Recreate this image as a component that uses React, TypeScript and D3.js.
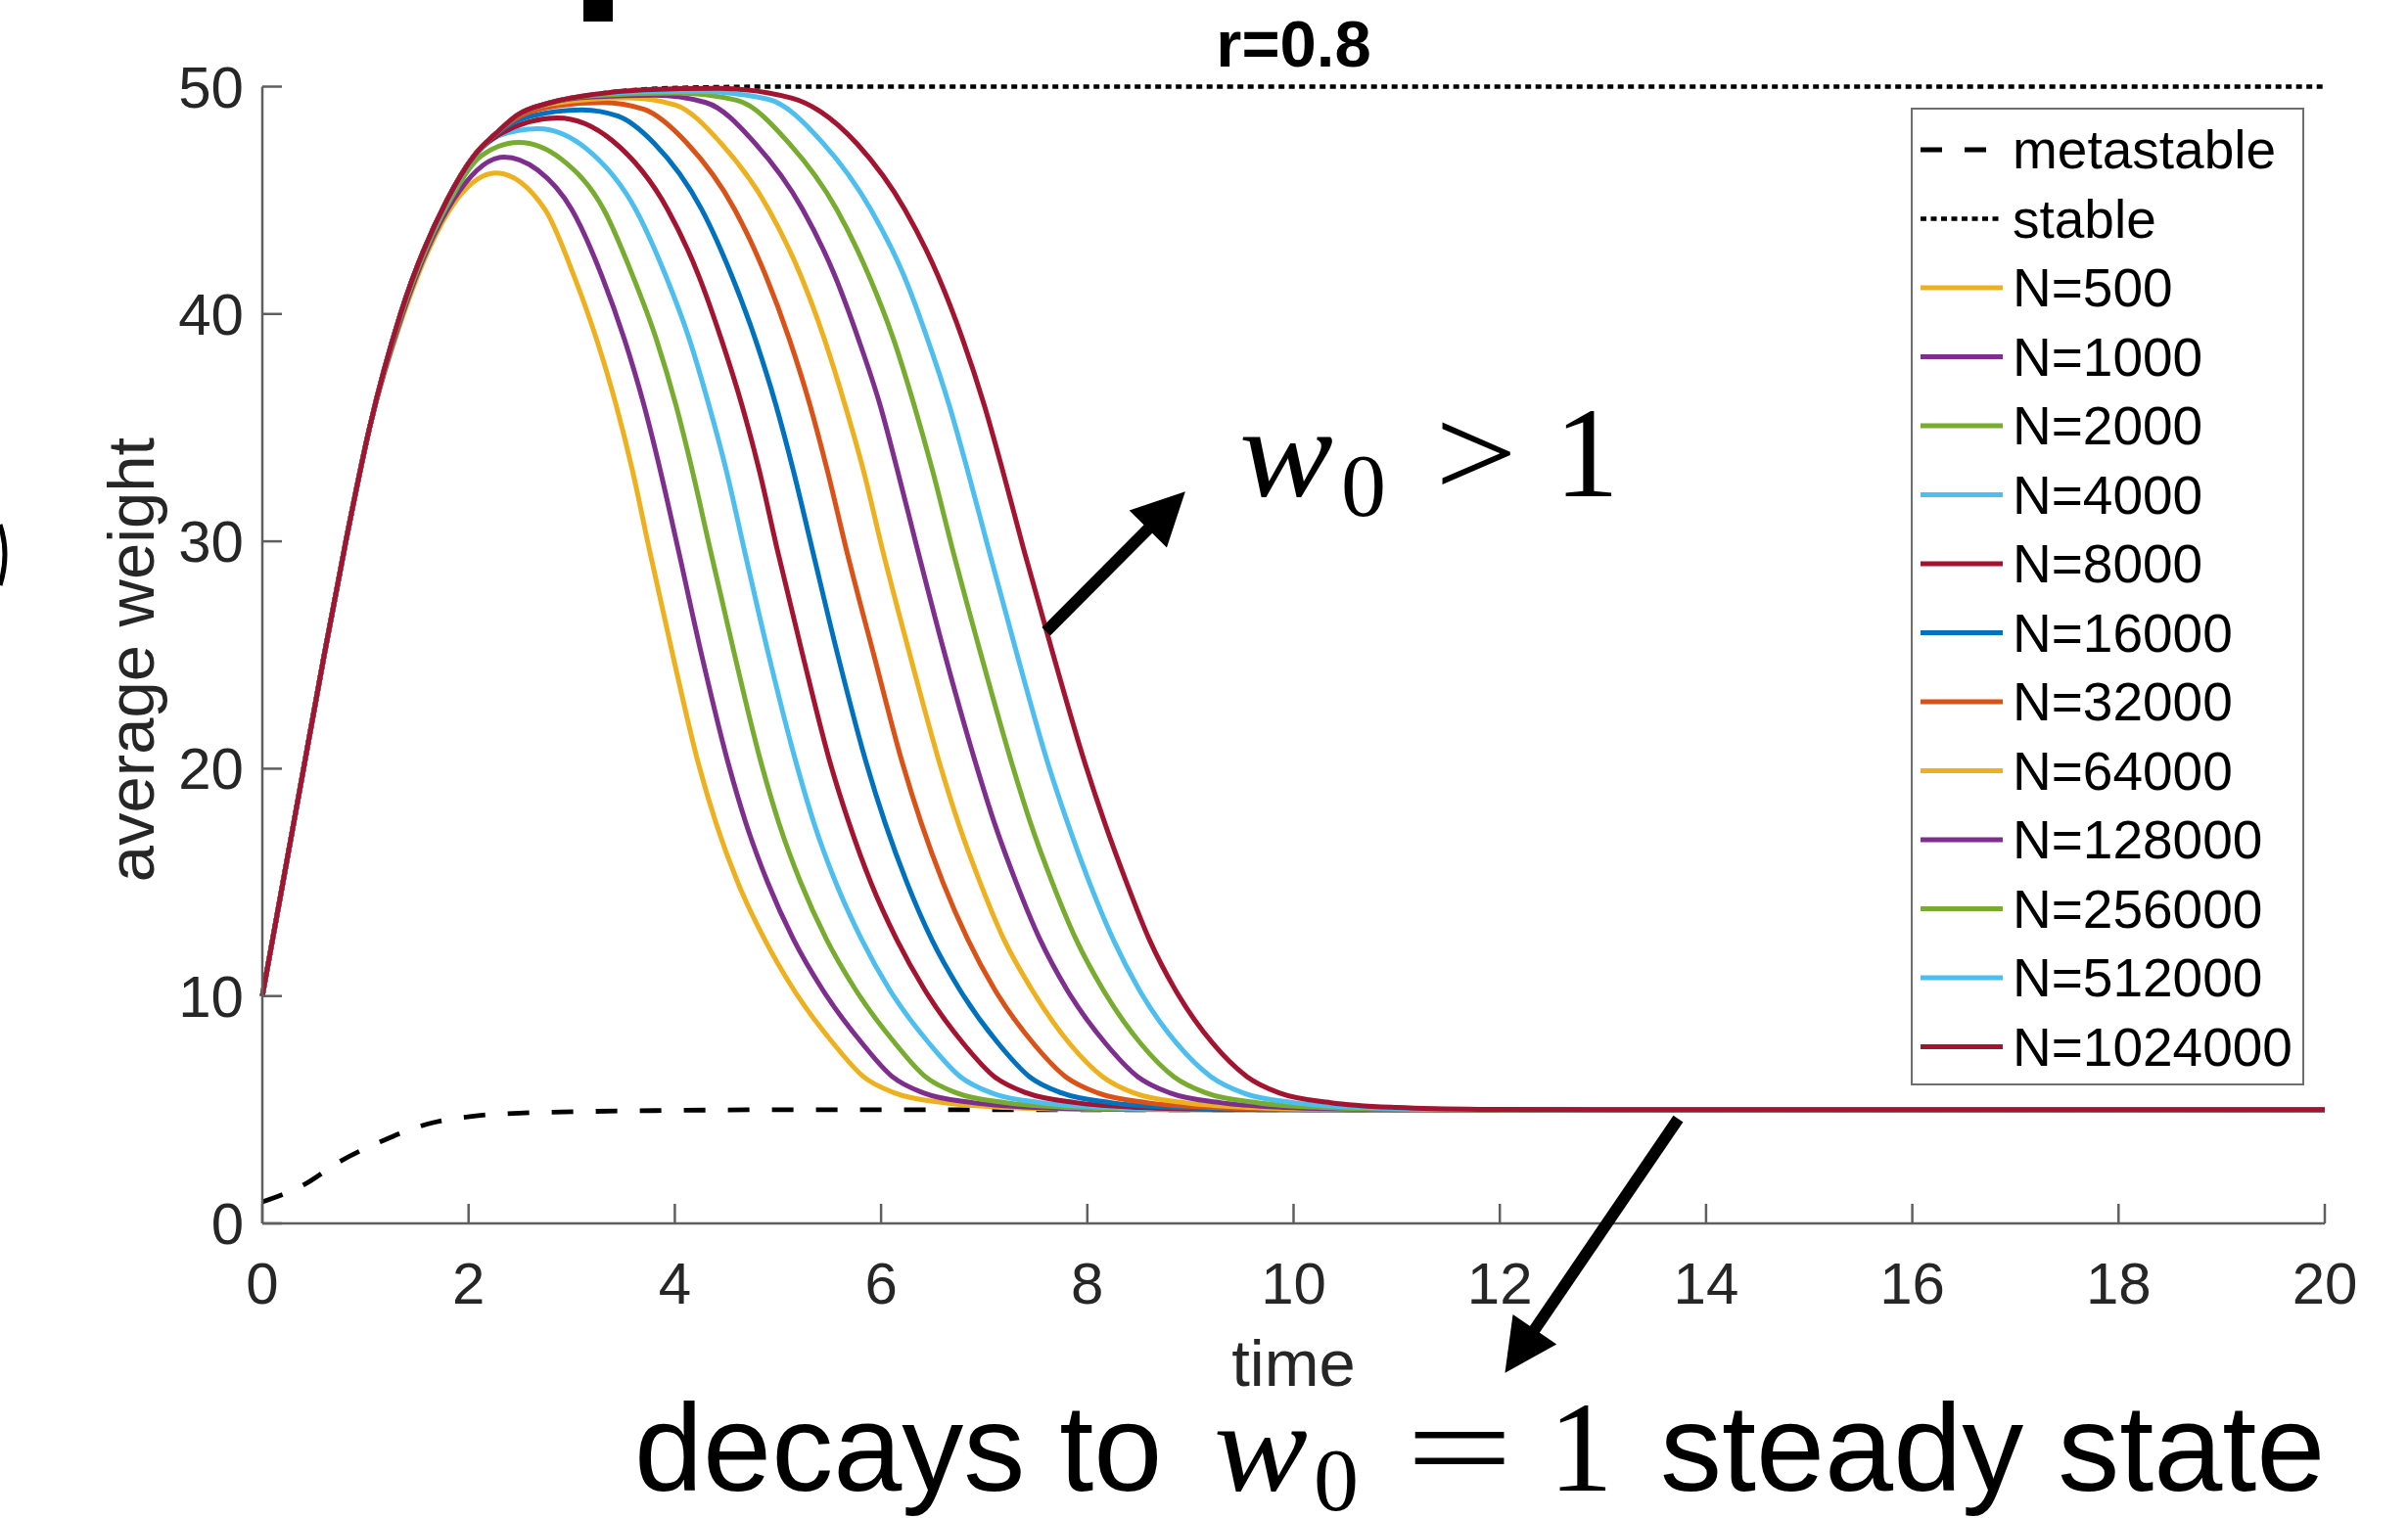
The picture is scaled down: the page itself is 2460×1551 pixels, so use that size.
import React from 'react';
import * as d3 from 'd3';

type Pt = [number, number];

// axis ticks
const timeTicks = [0, 2, 4, 6, 8, 10, 12, 14, 16, 18, 20];
const weightTicks = [0, 10, 20, 30, 40, 50];

// shared rise from w0 = 10
const rise: Pt[] = [[0, 10], [0.2, 15], [0.4, 20], [0.6, 25], [0.81, 30], [1.04, 35]];

const metastable: Pt[] = [[0, 0.95], [0.41, 1.72], [0.75, 2.72], [1.18, 3.66], [1.6, 4.37], [2.07, 4.73], [2.49, 4.85], [2.91, 4.9], [4, 4.97], [5, 5], [20, 5]];
const stable: Pt[] = [...rise, [1.34, 40], [1.79, 45], [2.06, 47], [2.28, 48], [2.47, 48.74], [2.8, 49.3], [3.2, 49.65], [3.7, 49.88], [4.3, 49.97], [5, 50], [20, 50]];

// w levels where the falling branches were read
const levels = [44.6, 41.7, 38.9, 36, 33.1, 29.7, 25, 20.2, 17.6, 15, 12.5, 10.3, 7.9, 6.45, 5.74, 5.31, 5.1, 5.02, 5];

// rising part and top of each run
const top500: Pt[] = [[1.37, 40], [1.88, 45], [2.265, 46.2]];
const top1000: Pt[] = [[1.36, 40], [1.85, 45], [2.34, 46.9], [2.67, 46.33]];
const top2000: Pt[] = [[1.35, 40], [1.82, 45], [2.12, 46.95], [2.485, 47.55], [2.9, 46.81]];
const top4000: Pt[] = [[1.34, 40], [1.8, 45], [2.07, 47], [2.3, 47.85], [2.67, 48.15], [3.145, 47.26]];
const top8000: Pt[] = [[1.34, 40], [1.79, 45], [2.06, 47], [2.32, 47.95], [2.86, 48.62], [3.395, 47.62]];
const top16000: Pt[] = [[1.34, 40], [1.79, 45], [2.06, 47], [2.29, 48], [2.6, 48.7], [3.1, 48.98], [3.45, 48.7], [3.8, 47.5]];
const top32000: Pt[] = [[1.34, 40], [1.79, 45], [2.06, 47], [2.28, 48], [2.5, 48.7], [2.85, 49.15], [3.3, 49.3], [3.7, 49.0], [4.12, 47.5]];
const top64000: Pt[] = [[1.34, 40], [1.79, 45], [2.06, 47], [2.28, 48], [2.47, 48.74], [2.8, 49.25], [3.55, 49.5], [4.0, 49.2], [4.45, 47.5]];
const top128000: Pt[] = [[1.34, 40], [1.79, 45], [2.06, 47], [2.28, 48], [2.47, 48.74], [2.8, 49.3], [3.2, 49.55], [3.8, 49.62], [4.3, 49.3], [4.78, 47.5]];
const top256000: Pt[] = [[1.34, 40], [1.79, 45], [2.06, 47], [2.28, 48], [2.47, 48.74], [2.8, 49.3], [3.2, 49.6], [4.0, 49.72], [4.6, 49.4], [5.11, 47.5]];
const top512000: Pt[] = [[1.34, 40], [1.79, 45], [2.06, 47], [2.28, 48], [2.47, 48.74], [2.8, 49.3], [3.2, 49.64], [3.7, 49.77], [4.2, 49.8], [4.9, 49.45], [5.44, 47.5]];
const top1024000: Pt[] = [[1.34, 40], [1.79, 45], [2.06, 47], [2.28, 48], [2.47, 48.74], [2.8, 49.3], [3.2, 49.65], [3.7, 49.86], [4.43, 49.92], [5.13, 49.5], [5.41, 48.91], [5.77, 47.47]];

// time at which each run crosses the levels above
const fall500 = [2.74, 3.02, 3.24, 3.43, 3.59, 3.75, 3.98, 4.23, 4.4, 4.61, 4.87, 5.15, 5.54, 5.83, 6.13, 6.6, 7.2, 8.0, 9.2];
const fall1000 = [3.0, 3.29, 3.51, 3.7, 3.86, 4.03, 4.26, 4.52, 4.69, 4.9, 5.15, 5.43, 5.82, 6.11, 6.41, 6.89, 7.49, 8.29, 9.49];
const fall2000 = [3.31, 3.59, 3.82, 4.01, 4.17, 4.34, 4.58, 4.84, 5.01, 5.22, 5.47, 5.75, 6.14, 6.43, 6.73, 7.21, 7.82, 8.62, 9.82];
const fall4000 = [3.62, 3.91, 4.14, 4.33, 4.5, 4.67, 4.91, 5.18, 5.35, 5.56, 5.81, 6.08, 6.47, 6.77, 7.07, 7.55, 8.16, 8.96, 10.16];
const fall8000 = [3.93, 4.23, 4.45, 4.65, 4.82, 4.99, 5.24, 5.51, 5.69, 5.9, 6.15, 6.42, 6.8, 7.1, 7.41, 7.89, 8.5, 9.3, 10.5];
const fall16000 = [4.26, 4.55, 4.78, 4.98, 5.15, 5.33, 5.58, 5.86, 6.04, 6.25, 6.49, 6.76, 7.14, 7.44, 7.75, 8.23, 8.85, 9.65, 10.85];
const fall32000 = [4.58, 4.88, 5.11, 5.31, 5.48, 5.66, 5.93, 6.21, 6.39, 6.6, 6.84, 7.1, 7.48, 7.79, 8.1, 8.58, 9.2, 10.0, 11.2];
const fall64000 = [4.91, 5.22, 5.45, 5.65, 5.83, 6.01, 6.28, 6.57, 6.75, 6.96, 7.19, 7.46, 7.83, 8.15, 8.45, 8.94, 9.57, 10.37, 11.57];
const fall128000 = [5.24, 5.55, 5.78, 5.99, 6.16, 6.35, 6.62, 6.92, 7.1, 7.31, 7.54, 7.8, 8.18, 8.49, 8.8, 9.29, 9.92, 10.72, 11.92];
const fall256000 = [5.57, 5.88, 6.12, 6.32, 6.5, 6.69, 6.97, 7.27, 7.45, 7.66, 7.89, 8.15, 8.52, 8.84, 9.15, 9.65, 10.28, 11.08, 12.28];
const fall512000 = [5.9, 6.22, 6.45, 6.66, 6.84, 7.04, 7.32, 7.62, 7.81, 8.02, 8.25, 8.5, 8.87, 9.2, 9.51, 10.0, 10.64, 11.44, 12.64];
const fall1024000 = [6.23, 6.55, 6.79, 7.0, 7.18, 7.38, 7.67, 7.98, 8.17, 8.38, 8.6, 8.85, 9.22, 9.55, 9.86, 10.36, 11.0, 11.8, 13.0];

const seriesLabels = ['N=500', 'N=1000', 'N=2000', 'N=4000', 'N=8000', 'N=16000', 'N=32000', 'N=64000', 'N=128000', 'N=256000', 'N=512000', 'N=1024000'];
const seriesTops = [top500, top1000, top2000, top4000, top8000, top16000, top32000, top64000, top128000, top256000, top512000, top1024000];
const seriesFalls = [fall500, fall1000, fall2000, fall4000, fall8000, fall16000, fall32000, fall64000, fall128000, fall256000, fall512000, fall1024000];
const seriesColors = ['#EDB120', '#7E2F8E', '#77AC30', '#4DBEEE', '#A2142F', '#0072BD', '#D95319', '#EDB120', '#7E2F8E', '#77AC30', '#4DBEEE', '#A2142F'];

const seriesData: Pt[][] = seriesLabels.map((_, i) => [
  ...rise,
  ...seriesTops[i],
  ...seriesFalls[i].map((t, k) => [t, levels[k]] as Pt),
  [20, 5] as Pt,
]);

const W = 2460;
const H = 1551;
const sans = "'Liberation Sans', Arial, Helvetica, sans-serif";
const serif = "'Liberation Serif', 'Times New Roman', serif";

const x = d3.scaleLinear().domain([0, 20]).range([268, 2375]);
const y = d3.scaleLinear().domain([0, 50]).range([1250, 88.5]);
const line = d3.line<Pt>().x(d => x(d[0])).y(d => y(d[1])).curve(d3.curveMonotoneX);

function Arrow({ from, to }: { from: Pt; to: Pt }) {
  // from/to in data coords
  const x1 = x(from[0]), y1 = y(from[1]), x2 = x(to[0]), y2 = y(to[1]);
  const len = Math.hypot(x2 - x1, y2 - y1);
  const ux = (x2 - x1) / len, uy = (y2 - y1) / len;
  const hl = 54, hw = 27;
  const bx = x2 - ux * hl, by = y2 - uy * hl;
  const head = `M${x2},${y2}L${bx - uy * hw},${by + ux * hw}L${bx + uy * hw},${by - ux * hw}Z`;
  return (
    <g>
      <line x1={x1} y1={y1} x2={bx + ux * 4} y2={by + uy * 4} stroke="#000" strokeWidth={12} />
      <path d={head} fill="#000" />
    </g>
  );
}

export default function App() {
  const legendX = 1953, legendY = 111, legendW = 400, legendH = 997;
  const rowY = (k: number) => 153 + k * 70.5;

  return (
    <div>
      <style>{'body{margin:0;background:#fff}'}</style>
      <svg width={W} height={H} viewBox={`0 0 ${W} ${H}`} style={{ display: 'block' }}>
        <rect width={W} height={H} fill="#fff" />

        {/* cut-off fragments from the neighbouring panel */}
        <rect x={596} y={0} width={30} height={22} fill="#000" />
        <path d="M0,536 Q10,566 0,598" fill="none" stroke="#000" strokeWidth={5} />

        {/* reference lines */}
        <path d={line(metastable) || ''} fill="none" stroke="#000" strokeWidth={4.8} strokeDasharray="22 23" />
        <path d={line(stable) || ''} fill="none" stroke="#000" strokeWidth={4.5} strokeDasharray="6 4.5" />

        {seriesData.map((d, i) => (
          <path key={seriesLabels[i]} d={line(d) || ''} fill="none" stroke={seriesColors[i]} strokeWidth={5} strokeLinejoin="round" />
        ))}

        {/* axes */}
        <g stroke="#5f5f5f" strokeWidth={2.5}>
          <line x1={x(0)} y1={y(0)} x2={x(20)} y2={y(0)} />
          <line x1={x(0)} y1={y(0)} x2={x(0)} y2={y(50)} />
          {timeTicks.map(t => (
            <line key={'xt' + t} x1={x(t)} x2={x(t)} y1={y(0)} y2={y(0) - 20} />
          ))}
          {weightTicks.map(w => (
            <line key={'yt' + w} x1={x(0)} x2={x(0) + 20} y1={y(w)} y2={y(w)} />
          ))}
        </g>
        <g fontFamily={sans} fontSize={60} fill="#262626">
          {timeTicks.map(t => (
            <text key={'xl' + t} x={x(t)} y={1332} textAnchor="middle">{t}</text>
          ))}
          {weightTicks.map(w => (
            <text key={'yl' + w} x={249} y={y(w) + 21} textAnchor="end">{w}</text>
          ))}
        </g>
        <text x={(x(0) + x(20)) / 2} y={1416} textAnchor="middle" fontFamily={sans} fontSize={67} fill="#262626">time</text>
        <text transform={`translate(157,${674}) rotate(-90)`} textAnchor="middle" fontFamily={sans} fontSize={67} fill="#262626">average weight</text>
        <text x={(x(0) + x(20)) / 2} y={68} textAnchor="middle" fontFamily={sans} fontSize={67} fontWeight="bold" fill="#000">r=0.8</text>

        {/* legend */}
        <rect x={legendX} y={legendY} width={legendW} height={legendH} fill="#fff" stroke="#6e6e6e" strokeWidth={2} />
        <g fontFamily={sans} fontSize={55} fill="#000">
          <line x1={1962} x2={2046} y1={rowY(0)} y2={rowY(0)} stroke="#000" strokeWidth={4.8} strokeDasharray="22 23" />
          <text x={2056} y={rowY(0) + 19}>metastable</text>
          <line x1={1962} x2={2046} y1={rowY(1)} y2={rowY(1)} stroke="#000" strokeWidth={4.5} strokeDasharray="6 4.5" />
          <text x={2056} y={rowY(1) + 19}>stable</text>
          {seriesLabels.map((lab, i) => (
            <g key={'lg' + lab}>
              <line x1={1962} x2={2046} y1={rowY(i + 2)} y2={rowY(i + 2)} stroke={seriesColors[i]} strokeWidth={5} />
              <text x={2056} y={rowY(i + 2) + 19}>{lab}</text>
            </g>
          ))}
        </g>

        {/* annotations */}
        <Arrow from={[7.6, 26.03]} to={[8.95, 32.19]} />
        <g fontFamily={serif} fill="#000">
          <text x={1266} y={507} fontSize={132} fontStyle="italic" textLength={96} lengthAdjust="spacingAndGlyphs">w</text>
          <text x={1370} y={527} fontSize={92}>0</text>
          <text x={1466} y={507} fontSize={132} textLength={84} lengthAdjust="spacingAndGlyphs">&gt;</text>
          <text x={1588} y={507} fontSize={132}>1</text>
        </g>

        <Arrow from={[13.73, 4.6]} to={[12.05, -6.58]} />
        <g fill="#000">
          <text x={648} y={1523} fontFamily={sans} fontSize={126}>decays to</text>
          <text x={1240} y={1523} fontFamily={serif} fontSize={132} fontStyle="italic" textLength={96} lengthAdjust="spacingAndGlyphs">w</text>
          <text x={1342} y={1543} fontFamily={serif} fontSize={92}>0</text>
          <text x={1436} y={1523} fontFamily={serif} fontSize={132} textLength={110} lengthAdjust="spacingAndGlyphs">=</text>
          <text x={1582} y={1523} fontFamily={serif} fontSize={132}>1</text>
          <text x={1696} y={1523} fontFamily={sans} fontSize={126}>steady state</text>
        </g>
      </svg>
    </div>
  );
}
